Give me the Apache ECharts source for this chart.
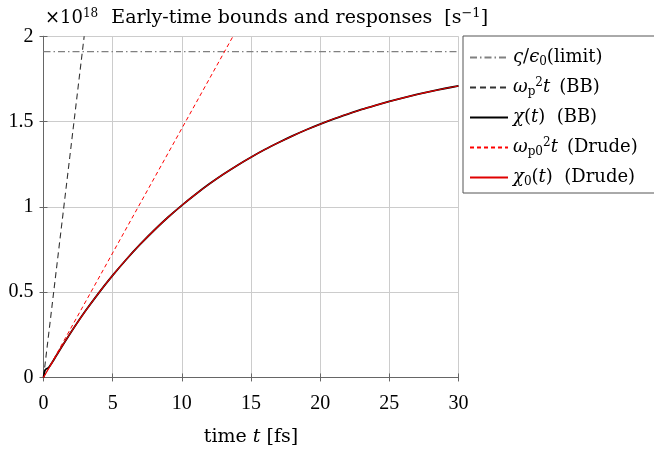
<!DOCTYPE html>
<html>
<head>
<meta charset="utf-8">
<script src="https://cdn.jsdelivr.net/npm/echarts@6/dist/echarts.min.js"></script>
<style>html,body{margin:0;padding:0;background:#fff;}#c{width:654px;height:452px;}</style>
</head>
<body>
<div id="c"></div>
<script>
// Data (y values in units of 1e18 s^-1, time in fs)
var xTicks = [0, 5, 10, 15, 20, 25, 30];
var yTicks = [0, 0.5, 1, 1.5, 2];
var timeD = [0,1,2,3,4,5,6,7,8,9,10,11,12,13,14,15,16,17,18,19,20,21,22,23,24,25,26,27,28,29,30];
var chi0Drude = [0,0.138,0.266,0.386,0.496,0.598,0.693,0.781,0.863,0.939,1.009,1.074,1.135,1.191,1.243,1.291,1.336,1.377,1.416,1.452,1.485,1.516,1.544,1.571,1.595,1.618,1.639,1.659,1.677,1.694,1.709];
var timeBB = [0,0.1,0.2,0.35,0.6,1,2,3,4,5,6,7,8,9,10,11,12,13,14,15,16,17,18,19,20,21,22,23,24,25,26,27,28,29,30];
var chiBB = [0,0.04,0.05,0.056,0.085,0.138,0.266,0.386,0.496,0.598,0.693,0.781,0.863,0.939,1.009,1.074,1.135,1.191,1.243,1.291,1.336,1.377,1.416,1.452,1.485,1.516,1.544,1.571,1.595,1.618,1.639,1.659,1.677,1.694,1.709];
var limitT = [0, 30];
var limitV = [1.91, 1.91];
var bbLinT = [0, 2.94];
var bbLinV = [0, 2.0];
var drLinT = [0, 13.7];
var drLinV = [0, 2.0];

function pairs(xs, ys){ return xs.map(function(x,i){ return [x, ys[i]]; }); }

var FN = '"Liberation Serif", serif';
var FT = '"DejaVu Serif", serif';
function mkRich(fs, ss, up, dn){
  return {
    n: {fontFamily: FT, fontSize: fs, fontWeight: 'normal', color: '#000'},
    i: {fontFamily: FT, fontSize: fs, fontWeight: 'normal', fontStyle: 'italic', color: '#000'},
    sup: {fontFamily: FT, fontSize: ss, fontWeight: 'normal', color: '#000', padding: [0,0,up,0]},
    sub: {fontFamily: FT, fontSize: ss, fontWeight: 'normal', color: '#000', padding: [dn,0,0,0]},
    x: {fontFamily: FT, fontSize: 18, fontWeight: 'normal', color: '#000'},
    xs: {fontFamily: FT, fontSize: 12, fontWeight: 'normal', color: '#000', padding: [0,13,10,0]}
  };
}
var richTitle = mkRich(19, 13, 10, 9);
var richLeg = mkRich(18, 12, 9, 9);
var richName = mkRich(19, 13, 10, 9);
var legendText = {
  'limit': '{i|ς}{n|/}{i|ϵ}{sub|0}{n|(limit)}',
  'BBlin': '{i|ω}{sub|p}{sup|2}{i|t} {n| (BB)}',
  'BB': '{i|χ}{n|(}{i|t}{n|)  (BB)}',
  'Dlin': '{i|ω}{sub|p0}{sup|2}{i|t} {n| (Drude)}',
  'D': '{i|χ}{sub|0}{n|(}{i|t}{n|)  (Drude)}'
};

var chart = echarts.init(document.getElementById('c'), null, {renderer: 'canvas'});
var axisCol = '#666';
chart.setOption({
  animation: false,
  backgroundColor: '#fff',
  title: {
    left: 40, top: 2,
    text: '{x|×10}{xs|18}{n|Early-time bounds and responses  [s}{sup|−1}{n|]}',
    textStyle: {rich: richTitle, fontWeight: 'normal'}
  },
  legend: {
    orient: 'vertical',
    left: 463, top: 36,
    itemWidth: 38, itemHeight: 14, itemGap: 9,
    padding: [11, 30, 5, 6],
    borderColor: '#555', borderWidth: 1,
    itemStyle: {opacity: 0},
    data: ['limit','BBlin','BB','Dlin','D'],
    formatter: function(name){ return legendText[name]; },
    textStyle: {rich: richLeg, lineHeight: 21, fontWeight: 'normal'}
  },
  grid: {left: 43.5, right: 195.5, top: 36.3, bottom: 64.7},
  xAxis: [{
    type: 'value', min: 0, max: 30, interval: 5,
    name: '{n|time }{i|t}{n| [fs]}', nameLocation: 'middle', nameGap: 48,
    nameTextStyle: {rich: richName},
    axisLine: {show: true, lineStyle: {color: axisCol, width: 1}},
    axisTick: {show: true, inside: true, length: 4, lineStyle: {color: axisCol}},
    axisLabel: {fontFamily: FN, fontSize: 20, color: '#000', margin: 14},
    splitLine: {show: true, lineStyle: {color: '#cccccc', width: 1}}
  }, {
    type: 'value', min: 0, max: 30, interval: 5, position: 'top',
    axisLine: {show: true, lineStyle: {color: axisCol, width: 1}},
    axisTick: {show: true, inside: true, length: 4, lineStyle: {color: axisCol}},
    axisLabel: {show: false}, splitLine: {show: false}
  }],
  yAxis: [{
    type: 'value', min: -0.015, max: 2,
    axisLine: {show: true, lineStyle: {color: axisCol, width: 1}},
    axisTick: {show: true, inside: true, length: 4, lineStyle: {color: axisCol}, customValues: yTicks},
    axisLabel: {fontFamily: FN, fontSize: 20, color: '#000', margin: 10, customValues: yTicks,
      formatter: function(v){ return String(v); }},
    splitLine: {show: true, lineStyle: {color: '#cccccc', width: 1}}
  }, {
    type: 'value', min: -0.015, max: 2, position: 'right',
    axisLine: {show: true, lineStyle: {color: axisCol, width: 1}},
    axisTick: {show: true, inside: true, length: 4, lineStyle: {color: axisCol}, customValues: yTicks},
    axisLabel: {show: false, customValues: yTicks}, splitLine: {show: false}
  }],
  series: [
    {name: 'limit', type: 'line', data: pairs(limitT, limitV), showSymbol: false, symbol: 'none',
      lineStyle: {color: '#808080', width: 1.2, type: [7,3,1.5,3]}, itemStyle: {color: '#808080'}},
    {name: 'BBlin', type: 'line', data: pairs(bbLinT, bbLinV), showSymbol: false, symbol: 'none',
      lineStyle: {color: '#333', width: 1.1, type: [6,4]}, itemStyle: {color: '#333'}},
    {name: 'BB', type: 'line', data: pairs(timeBB, chiBB), showSymbol: false, symbol: 'none', smooth: 0.2,
      lineStyle: {color: '#000', width: 1.8}, itemStyle: {color: '#000'}},
    {name: 'Dlin', type: 'line', data: pairs(drLinT, drLinV), showSymbol: false, symbol: 'none',
      lineStyle: {color: '#ff0000', width: 1, type: [4,3]}, itemStyle: {color: '#ff0000'}},
    {name: 'D', type: 'line', data: pairs(timeD, chi0Drude), showSymbol: false, symbol: 'none', smooth: 0.2,
      lineStyle: {color: '#e00000', width: 1.1}, itemStyle: {color: '#e00000'}}
  ]
});
</script>
</body>
</html>
